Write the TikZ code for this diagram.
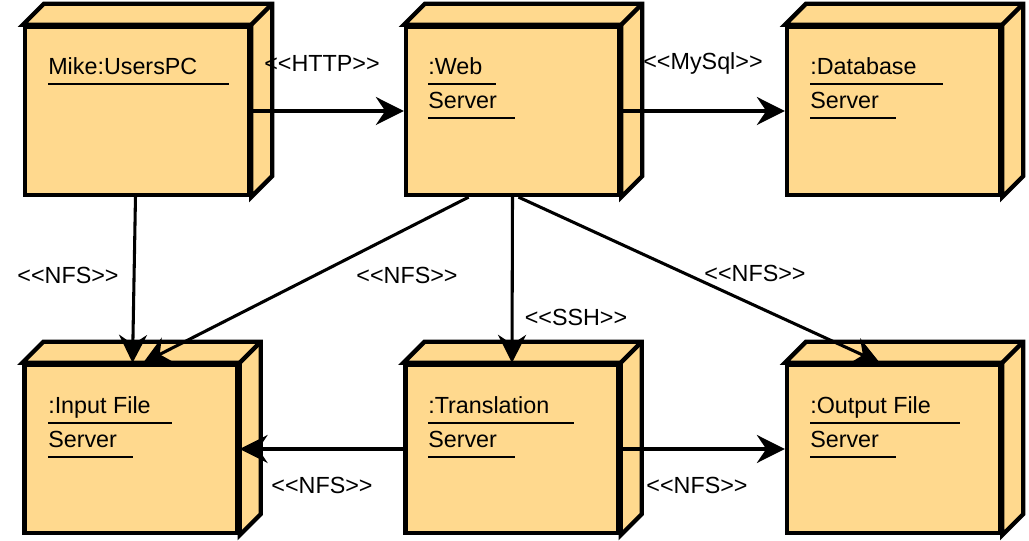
\documentclass[tikz,border=0pt]{standalone}
\usepackage{fontspec}
\setmainfont{Liberation Sans}
\usetikzlibrary{arrows.meta, calc}
\definecolor{nodefill}{RGB}{255,217,142}
\newcommand{\ulbox}[2]{\rlap{#1}\rule[-7.8pt]{\dimexpr #2pt*3/4\relax}{1.5pt}}
\newcommand{\stereo}[1]{<\kern0pt<#1>\kern0pt>}

\tikzset{
  devnode/.style={draw, line width=3.2pt, fill=nodefill, minimum width=159.75pt, minimum height=126pt, inner sep=0pt},
  devside/.style={draw, line width=3.2pt, fill=nodefill},
  devtext/.style={anchor=base west, inner sep=0pt, align=left, font=\fontsize{17.5}{25.5}\selectfont},
  conn/.style={line width=2.3pt, -{Stealth[length=21pt, width=21pt, inset=7pt]}},
  stereotype/.style={inner sep=0pt, font=\fontsize{17.5}{20}\selectfont},
}

\begin{document}
\begin{tikzpicture}[x=0.75pt,y=0.75pt,yscale=-1,xscale=1]
\useasboundingbox (0,0) rectangle (1029,541);

% Nodes (front faces)
\node [devnode, minimum width=168pt] (pc) at (137,111) {};
\node [devnode] (web) at (512.5,111) {};
\node [devnode] (db) at (893.5,111) {};
\node [devnode] (inp) at (131,449) {};
\node [devnode] (trans) at (512,449) {};
\node [devnode] (out) at (893.5,449) {};

% Top and side faces
\foreach \n in {pc,web,db,inp,trans,out} {
  \draw [devside] (\n.north west) -- ++(21,-21) -- ($(\n.north east)+(21,-21)$) -- ($(\n.south east)+(21,-21)$) -- (\n.south east) -- (\n.north east) -- cycle;
  \draw [line width=3.2pt] (\n.north east) -- ++(21,-21);
}

% Text Node
\node [devtext] (pctxt) at (48,75) {\ulbox{Mike:UsersPC}{181}};
% Text Node
\node [devtext] (webtxt) at (428,109) {\ulbox{:Web}{68}\\\ulbox{Server}{87}};
% Text Node
\node [devtext] (dbtxt) at (810,109) {\ulbox{:Database}{133}\\\ulbox{Server}{86}};
% Text Node
\node [devtext] (inptxt) at (48,448) {\ulbox{:Input File}{124}\\\ulbox{Server}{85}};
% Text Node
\node [devtext] (transtxt) at (428,448) {\ulbox{:Translation}{146}\\\ulbox{Server}{87}};
% Text Node
\node [devtext] (outtxt) at (810,448) {\ulbox{:Output File}{150}\\\ulbox{Server}{86}};

% Connectors
\draw [conn] (pc) -- (web);
\draw [conn] (web) -- (db);
\draw [conn] (pc) -- (inp);
\draw [conn] (web.243) -- (inp.82);
\draw [conn] (web.south) -- (trans.north);
\draw [conn] (web.274) -- (out.99);
\draw [conn] (trans) -- (inp);
\draw [conn] (trans) -- (out);

% Stereotype labels
\node [stereotype] (lhttp) at (322,63) {\stereo{HTTP}};
\node [stereotype] (lmysql) at (703,63) {\stereo{MySql}};
\node [stereotype] (lnfs1) at (68,275) {\stereo{NFS}};
\node [stereotype] (lnfs2) at (407,275) {\stereo{NFS}};
\node [stereotype] (lnfs3) at (755,273) {\stereo{NFS}};
\node [stereotype] (lssh) at (576,317) {\stereo{SSH}};
\node [stereotype] (lnfs4) at (322,485) {\stereo{NFS}};
\node [stereotype] (lnfs5) at (697,485) {\stereo{NFS}};

\end{tikzpicture}
\end{document}
